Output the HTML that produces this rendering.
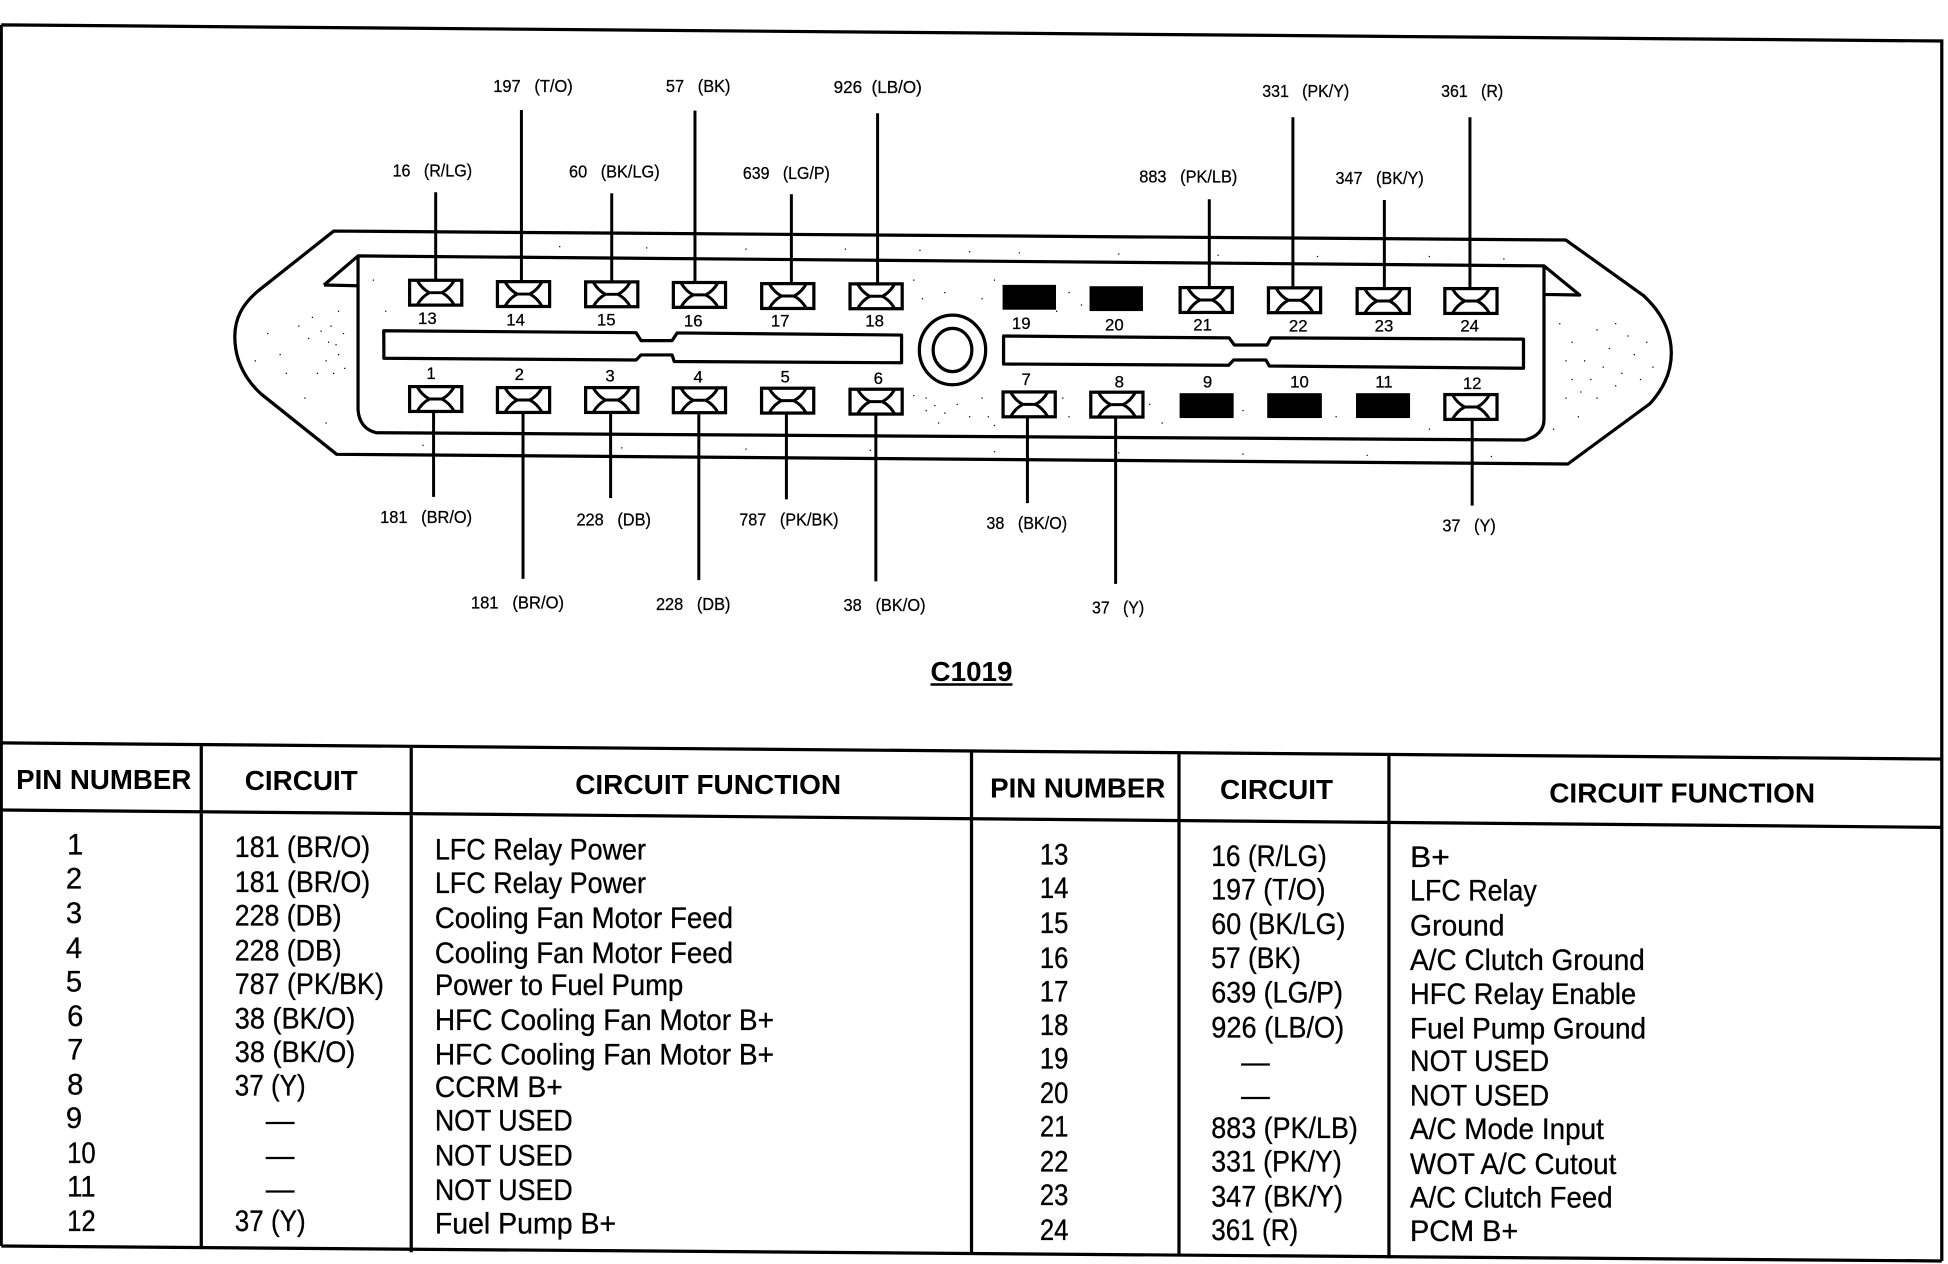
<!DOCTYPE html>
<html><head><meta charset="utf-8"><style>
html,body{margin:0;padding:0;background:#fff}
svg{display:block}
text{font-family:"Liberation Sans",sans-serif;fill:#000;white-space:pre}
.l{font-size:14px;stroke:#000;stroke-width:.2}
.n{font-size:13.5px;text-anchor:middle;stroke:#000;stroke-width:.2}
.t{font-size:23.5px;stroke:#000;stroke-width:.25}
.h{font-size:22px;font-weight:bold}
.s{fill:none;stroke:#000;stroke-width:2.6;stroke-linejoin:round}
.w{stroke:#000;stroke-width:2.4;fill:none}
.tb{stroke:#000;stroke-width:2.6;fill:none}
</style></head><body>
<svg xmlns="http://www.w3.org/2000/svg" width="1948" height="1264" viewBox="0 0 1568 1017.45" preserveAspectRatio="none">
<defs>
<g id="p"><rect x="-21" y="-10" width="42" height="20" fill="#fff" stroke="#000" stroke-width="2.6"/><path d="M-15,-10Q-11,-3 -5,0Q-11,3 -15,10M15,-10Q11,-3 5,0Q11,3 15,10M-5,0H5" fill="none" stroke="#000" stroke-width="2.4"/></g>
</defs>
<rect width="1568" height="1018" fill="#fff"/>

<!-- frame -->
<path class="tb" d="M1,20L1563,33V1015M1,20V1003"/>

<!-- connector body -->
<path class="s" d="M268.6,186L1260.4,193.2L1323,238C1338,252 1345.3,268 1345.3,284.3C1345.3,300 1339,313 1328,325L1262,373.5L271,365.7L210,317C195,303 189,287 189,271C189,256 195,245 208,234Z"/>
<path class="s" d="M260.8,229.4L288.2,206L1242.8,214L1271.5,237.5L1242.8,237M260.8,229.4L288.2,230M288.2,206V330C289,340 294,346 302.7,348.3L1227.5,354.2C1237,352 1242.8,346 1242.8,338V214"/>
<path class="s" d="M308.9,266.2L512,267.8L516,274.2H541L545,268L725.7,269.7V292L542.7,291L541,285.7H516L512,289.8L309,288.4Z"/>
<path class="s" d="M807.8,270.5L989.4,272L993.5,277.7H1020L1023,272L1226.3,273V296.4L1021.7,294.6L1019,289.8H993L989,294L807.8,293Z"/>
<ellipse class="s" cx="766.7" cy="281.7" rx="26.7" ry="28"/>
<ellipse class="s" cx="766.7" cy="281.7" rx="15.6" ry="17.4"/>

<!-- speckle -->
<path d="M215,268h1v1h-1zM225,285h1v1h-1zM240,262h1v1h-1zM251,255h1v1h-1zM262,290h1v1h-1zM270,277h1v1h-1zM230,300h1v1h-1zM245,320h1v1h-1zM262,340h1v1h-1zM205,290h1v1h-1zM272,250h1v1h-1zM255,300h1v1h-1zM248,272h1v1h-1zM258,266h1v1h-1zM266,262h1v1h-1zM272,285h1v1h-1zM277,296h1v1h-1zM276,268h1v1h-1zM264,275h1v1h-1zM268,300h1v1h-1zM300,225h1v1h-1zM310,250h1v1h-1zM450,198h1v1h-1zM520,199h1v1h-1zM600,200h1v1h-1zM680,200h1v1h-1zM740,201h1v1h-1zM780,202h1v1h-1zM820,203h1v1h-1zM900,204h1v1h-1zM980,205h1v1h-1zM1060,206h1v1h-1zM1150,206h1v1h-1zM1210,208h1v1h-1zM735,225h1v1h-1zM742,240h1v1h-1zM760,235h1v1h-1zM790,240h1v1h-1zM800,225h1v1h-1zM735,318h1v1h-1zM745,330h1v1h-1zM755,340h1v1h-1zM790,320h1v1h-1zM795,335h1v1h-1zM855,320h1v1h-1zM860,335h1v1h-1zM925,325h1v1h-1zM935,340h1v1h-1zM1000,330h1v1h-1zM1075,335h1v1h-1zM1150,345h1v1h-1zM340,358h1v1h-1zM420,358h1v1h-1zM500,360h1v1h-1zM600,361h1v1h-1zM700,362h1v1h-1zM800,363h1v1h-1zM900,364h1v1h-1zM1000,365h1v1h-1zM1100,366h1v1h-1zM1200,367h1v1h-1zM1255,260h1v1h-1zM1265,275h1v1h-1zM1275,290h1v1h-1zM1285,265h1v1h-1zM1295,280h1v1h-1zM1305,300h1v1h-1zM1315,285h1v1h-1zM1325,275h1v1h-1zM1260,320h1v1h-1zM1270,335h1v1h-1zM1285,320h1v1h-1zM1250,345h1v1h-1zM1265,305h1v1h-1zM1330,295h1v1h-1zM1300,260h1v1h-1zM1280,305h1v1h-1zM1290,295h1v1h-1zM1300,310h1v1h-1zM1310,270h1v1h-1zM1320,305h1v1h-1zM1260,290h1v1h-1zM1272,315h1v1h-1zM850,250h1v1h-1zM860,235h1v1h-1zM870,245h1v1h-1zM745,320h1v1h-1zM752,326h1v1h-1zM760,332h1v1h-1zM770,325h1v1h-1zM780,335h1v1h-1zM800,342h1v1h-1z"/>

<!-- wires -->
<path class="w" d="M350.7,154.8V226M419.7,88.5V227M492.4,155.6V227M559.4,89V228M637,156.4V229M706.4,91.2V229M973.4,160.4V232M1040.7,94.4V232M1114.3,161V233M1183.2,94.4V233M349,331V400M421,332V466M491.5,332V401M562.5,332V467M633,333V402M705,333V468M827,335V405M898,336V470M1185,337V407"/>

<!-- pins -->
<use href="#p" x="350.7" y="235.6"/><use href="#p" x="421.4" y="236.7"/><use href="#p" x="492.4" y="236.9"/><use href="#p" x="563" y="237.4"/><use href="#p" x="634.1" y="238.3"/><use href="#p" x="705.2" y="238.5"/>
<rect x="807" y="229.3" width="43" height="20"/><rect x="877" y="230.4" width="43" height="20"/>
<use href="#p" x="970.9" y="241.5"/><use href="#p" x="1042" y="241.7"/><use href="#p" x="1113.4" y="242.3"/><use href="#p" x="1184" y="242.3"/>
<use href="#p" x="350.7" y="321.2"/><use href="#p" x="421.4" y="322"/><use href="#p" x="492.4" y="322"/><use href="#p" x="563" y="322.2"/><use href="#p" x="634" y="322.5"/><use href="#p" x="705.2" y="323.3"/>
<use href="#p" x="828.4" y="325.5"/><use href="#p" x="899" y="325.7"/>
<rect x="949.5" y="316.5" width="43.5" height="20"/><rect x="1020" y="316.5" width="44" height="20"/><rect x="1091.5" y="316.5" width="43.5" height="20"/>
<use href="#p" x="1184" y="327.6"/>

<!-- pin numbers -->
<text class="n" x="344" y="261">13</text><text class="n" x="415" y="262">14</text><text class="n" x="488" y="262">15</text><text class="n" x="558" y="263">16</text><text class="n" x="628" y="263">17</text><text class="n" x="704" y="263">18</text><text class="n" x="822" y="265">19</text><text class="n" x="897" y="266">20</text><text class="n" x="968" y="266">21</text><text class="n" x="1045" y="267">22</text><text class="n" x="1114" y="267">23</text><text class="n" x="1183" y="267">24</text>
<text class="n" x="347" y="305">1</text><text class="n" x="418" y="306">2</text><text class="n" x="491" y="307">3</text><text class="n" x="562" y="308">4</text><text class="n" x="632" y="308">5</text><text class="n" x="707" y="309">6</text><text class="n" x="826" y="310">7</text><text class="n" x="901" y="312">8</text><text class="n" x="972" y="312">9</text><text class="n" x="1046" y="312">10</text><text class="n" x="1114" y="312">11</text><text class="n" x="1185" y="313">12</text>

<!-- wire labels -->
<g class="labels">
<text class="l" x="397" y="74" textLength="64" lengthAdjust="spacingAndGlyphs">197   (T/O)</text>
<text class="l" x="536" y="74" textLength="52" lengthAdjust="spacingAndGlyphs">57   (BK)</text>
<text class="l" x="671" y="75" textLength="71" lengthAdjust="spacingAndGlyphs">926  (LB/O)</text>
<text class="l" x="316" y="142" textLength="64" lengthAdjust="spacingAndGlyphs">16   (R/LG)</text>
<text class="l" x="458" y="143" textLength="73" lengthAdjust="spacingAndGlyphs">60   (BK/LG)</text>
<text class="l" x="598" y="144" textLength="70" lengthAdjust="spacingAndGlyphs">639   (LG/P)</text>
<text class="l" x="917" y="147" textLength="79" lengthAdjust="spacingAndGlyphs">883   (PK/LB)</text>
<text class="l" x="1016" y="78" textLength="70" lengthAdjust="spacingAndGlyphs">331   (PK/Y)</text>
<text class="l" x="1075" y="148" textLength="71" lengthAdjust="spacingAndGlyphs">347   (BK/Y)</text>
<text class="l" x="1160" y="78" textLength="50" lengthAdjust="spacingAndGlyphs">361   (R)</text>
<text class="l" x="306" y="421" textLength="74" lengthAdjust="spacingAndGlyphs">181   (BR/O)</text>
<text class="l" x="379" y="490" textLength="75" lengthAdjust="spacingAndGlyphs">181   (BR/O)</text>
<text class="l" x="464" y="423" textLength="60" lengthAdjust="spacingAndGlyphs">228   (DB)</text>
<text class="l" x="528" y="491" textLength="60" lengthAdjust="spacingAndGlyphs">228   (DB)</text>
<text class="l" x="595" y="423" textLength="80" lengthAdjust="spacingAndGlyphs">787   (PK/BK)</text>
<text class="l" x="794" y="426" textLength="65" lengthAdjust="spacingAndGlyphs">38   (BK/O)</text>
<text class="l" x="679" y="492" textLength="66" lengthAdjust="spacingAndGlyphs">38   (BK/O)</text>
<text class="l" x="879" y="494" textLength="42" lengthAdjust="spacingAndGlyphs">37   (Y)</text>
<text class="l" x="1161" y="428" textLength="43" lengthAdjust="spacingAndGlyphs">37   (Y)</text>
</g>

<text x="749" y="548" style="font-size:22px;font-weight:bold" textLength="66" lengthAdjust="spacingAndGlyphs">C1019</text>
<path d="M749,551H815" stroke="#000" stroke-width="2"/>

<!-- table -->
<path class="tb" d="M1,598L1563,611M1,652L1563,666M1,1003L1563,1015M162,600V1005M331,601V1008M782,605V1010M949,606V1011M1118,608V1013"/>

<text class="h" x="13" y="635" textLength="141" lengthAdjust="spacingAndGlyphs">PIN NUMBER</text>
<text class="h" x="197" y="636" textLength="91" lengthAdjust="spacingAndGlyphs">CIRCUIT</text>
<text class="h" x="463" y="639" textLength="214" lengthAdjust="spacingAndGlyphs">CIRCUIT FUNCTION</text>
<text class="h" x="797" y="642" textLength="141" lengthAdjust="spacingAndGlyphs">PIN NUMBER</text>
<text class="h" x="982" y="643" textLength="91" lengthAdjust="spacingAndGlyphs">CIRCUIT</text>
<text class="h" x="1247" y="646" textLength="214" lengthAdjust="spacingAndGlyphs">CIRCUIT FUNCTION</text>

<!-- left pins -->
<text class="t" x="54" y="688" textLength="10">1</text><text class="t" x="53" y="715" textLength="12">2</text><text class="t" x="53" y="743" textLength="12">3</text><text class="t" x="53" y="771" textLength="12">4</text><text class="t" x="53" y="798" textLength="12">5</text><text class="t" x="54" y="826" textLength="11">6</text><text class="t" x="54" y="853" textLength="11">7</text><text class="t" x="54" y="881" textLength="11">8</text><text class="t" x="53" y="908" textLength="12">9</text><text class="t" x="54" y="936" textLength="23" lengthAdjust="spacingAndGlyphs">10</text><text class="t" x="54" y="963" textLength="23" lengthAdjust="spacingAndGlyphs">11</text><text class="t" x="54" y="991" textLength="23" lengthAdjust="spacingAndGlyphs">12</text>

<!-- left circuit -->
<text class="t" x="189" y="690" textLength="109" lengthAdjust="spacingAndGlyphs">181 (BR/O)</text>
<text class="t" x="189" y="718" textLength="109" lengthAdjust="spacingAndGlyphs">181 (BR/O)</text>
<text class="t" x="189" y="745" textLength="86" lengthAdjust="spacingAndGlyphs">228 (DB)</text>
<text class="t" x="189" y="773" textLength="86" lengthAdjust="spacingAndGlyphs">228 (DB)</text>
<text class="t" x="189" y="800" textLength="120" lengthAdjust="spacingAndGlyphs">787 (PK/BK)</text>
<text class="t" x="189" y="828" textLength="97" lengthAdjust="spacingAndGlyphs">38 (BK/O)</text>
<text class="t" x="189" y="855" textLength="97" lengthAdjust="spacingAndGlyphs">38 (BK/O)</text>
<text class="t" x="189" y="882" textLength="57" lengthAdjust="spacingAndGlyphs">37 (Y)</text>
<text class="t" x="214" y="910" textLength="23" lengthAdjust="spacingAndGlyphs">—</text>
<text class="t" x="214" y="938" textLength="23" lengthAdjust="spacingAndGlyphs">—</text>
<text class="t" x="214" y="965" textLength="23" lengthAdjust="spacingAndGlyphs">—</text>
<text class="t" x="189" y="991" textLength="57" lengthAdjust="spacingAndGlyphs">37 (Y)</text>

<!-- left function -->
<text class="t" x="350" y="692" textLength="170" lengthAdjust="spacingAndGlyphs">LFC Relay Power</text>
<text class="t" x="350" y="719" textLength="170" lengthAdjust="spacingAndGlyphs">LFC Relay Power</text>
<text class="t" x="350" y="747" textLength="240" lengthAdjust="spacingAndGlyphs">Cooling Fan Motor Feed</text>
<text class="t" x="350" y="775" textLength="240" lengthAdjust="spacingAndGlyphs">Cooling Fan Motor Feed</text>
<text class="t" x="350" y="801" textLength="200" lengthAdjust="spacingAndGlyphs">Power to Fuel Pump</text>
<text class="t" x="350" y="829" textLength="273" lengthAdjust="spacingAndGlyphs">HFC Cooling Fan Motor B+</text>
<text class="t" x="350" y="857" textLength="273" lengthAdjust="spacingAndGlyphs">HFC Cooling Fan Motor B+</text>
<text class="t" x="350" y="883" textLength="103" lengthAdjust="spacingAndGlyphs">CCRM B+</text>
<text class="t" x="350" y="910" textLength="111" lengthAdjust="spacingAndGlyphs">NOT USED</text>
<text class="t" x="350" y="938" textLength="111" lengthAdjust="spacingAndGlyphs">NOT USED</text>
<text class="t" x="350" y="966" textLength="111" lengthAdjust="spacingAndGlyphs">NOT USED</text>
<text class="t" x="350" y="993" textLength="146" lengthAdjust="spacingAndGlyphs">Fuel Pump B+</text>

<!-- right pins -->
<text class="t" x="837" y="696" textLength="23" lengthAdjust="spacingAndGlyphs">13</text><text class="t" x="837" y="723" textLength="23" lengthAdjust="spacingAndGlyphs">14</text><text class="t" x="837" y="751" textLength="23" lengthAdjust="spacingAndGlyphs">15</text><text class="t" x="837" y="779" textLength="23" lengthAdjust="spacingAndGlyphs">16</text><text class="t" x="837" y="806" textLength="23" lengthAdjust="spacingAndGlyphs">17</text><text class="t" x="837" y="833" textLength="23" lengthAdjust="spacingAndGlyphs">18</text><text class="t" x="837" y="860" textLength="23" lengthAdjust="spacingAndGlyphs">19</text><text class="t" x="837" y="888" textLength="23" lengthAdjust="spacingAndGlyphs">20</text><text class="t" x="837" y="915" textLength="23" lengthAdjust="spacingAndGlyphs">21</text><text class="t" x="837" y="943" textLength="23" lengthAdjust="spacingAndGlyphs">22</text><text class="t" x="837" y="970" textLength="23" lengthAdjust="spacingAndGlyphs">23</text><text class="t" x="837" y="998" textLength="23" lengthAdjust="spacingAndGlyphs">24</text>

<!-- right circuit -->
<text class="t" x="975" y="697" textLength="93" lengthAdjust="spacingAndGlyphs">16 (R/LG)</text>
<text class="t" x="975" y="724" textLength="92" lengthAdjust="spacingAndGlyphs">197 (T/O)</text>
<text class="t" x="975" y="752" textLength="108" lengthAdjust="spacingAndGlyphs">60 (BK/LG)</text>
<text class="t" x="975" y="779" textLength="72" lengthAdjust="spacingAndGlyphs">57 (BK)</text>
<text class="t" x="975" y="807" textLength="106" lengthAdjust="spacingAndGlyphs">639 (LG/P)</text>
<text class="t" x="975" y="835" textLength="107" lengthAdjust="spacingAndGlyphs">926 (LB/O)</text>
<text class="t" x="999" y="863" textLength="23" lengthAdjust="spacingAndGlyphs">—</text>
<text class="t" x="999" y="890" textLength="23" lengthAdjust="spacingAndGlyphs">—</text>
<text class="t" x="975" y="916" textLength="118" lengthAdjust="spacingAndGlyphs">883 (PK/LB)</text>
<text class="t" x="975" y="943" textLength="105" lengthAdjust="spacingAndGlyphs">331 (PK/Y)</text>
<text class="t" x="975" y="971" textLength="106" lengthAdjust="spacingAndGlyphs">347 (BK/Y)</text>
<text class="t" x="975" y="998" textLength="70" lengthAdjust="spacingAndGlyphs">361 (R)</text>

<!-- right function -->
<text class="t" x="1135" y="698" textLength="32" lengthAdjust="spacingAndGlyphs">B+</text>
<text class="t" x="1135" y="725" textLength="102" lengthAdjust="spacingAndGlyphs">LFC Relay</text>
<text class="t" x="1135" y="753" textLength="76" lengthAdjust="spacingAndGlyphs">Ground</text>
<text class="t" x="1135" y="781" textLength="189" lengthAdjust="spacingAndGlyphs">A/C Clutch Ground</text>
<text class="t" x="1135" y="808" textLength="182" lengthAdjust="spacingAndGlyphs">HFC Relay Enable</text>
<text class="t" x="1135" y="836" textLength="190" lengthAdjust="spacingAndGlyphs">Fuel Pump Ground</text>
<text class="t" x="1135" y="862" textLength="112" lengthAdjust="spacingAndGlyphs">NOT USED</text>
<text class="t" x="1135" y="890" textLength="112" lengthAdjust="spacingAndGlyphs">NOT USED</text>
<text class="t" x="1135" y="917" textLength="156" lengthAdjust="spacingAndGlyphs">A/C Mode Input</text>
<text class="t" x="1135" y="945" textLength="166" lengthAdjust="spacingAndGlyphs">WOT A/C Cutout</text>
<text class="t" x="1135" y="972" textLength="163" lengthAdjust="spacingAndGlyphs">A/C Clutch Feed</text>
<text class="t" x="1135" y="999" textLength="87" lengthAdjust="spacingAndGlyphs">PCM B+</text>
</svg>
</body></html>
